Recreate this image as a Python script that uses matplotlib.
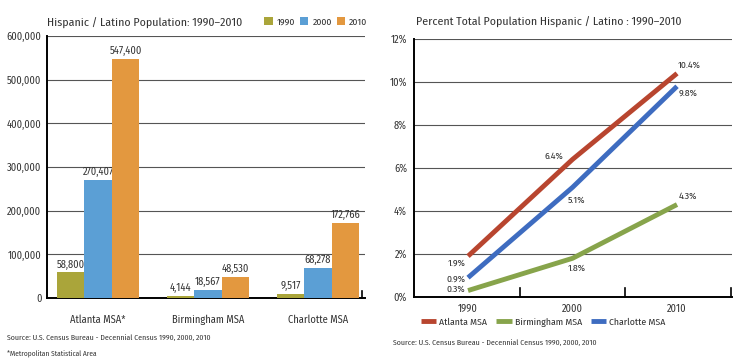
import matplotlib.pyplot as plt
import numpy as np

plt.rcParams['font.family'] = ['Fira Sans Condensed', 'Roboto Condensed', 'DejaVu Sans']

# population data
metros = ['Atlanta MSA*', 'Birmingham MSA', 'Charlotte MSA']
years = ['1990', '2000', '2010']
pop_1990 = [58800, 4144, 9517]
pop_2000 = [270407, 18567, 68278]
pop_2010 = [547400, 48530, 172766]

# percent data
pct_atlanta = [1.9, 6.4, 10.4]
pct_birmingham = [0.3, 1.8, 4.3]
pct_charlotte = [0.9, 5.1, 9.8]

bar_cols = ['#aaa53a', '#5b9fd5', '#e3983f']
line_cols = ['#b8452f', '#87a44b', '#3e6cc0']
txt = '#333333'
grid = '#555555'

fig = plt.figure(figsize=(7.43, 3.61), dpi=100)

# ---- left: bars ----
ax1 = fig.add_axes([47/743, 1-298/361, 318/743, 262/361])
x = np.arange(len(metros))
w = 0.25
series = [pop_1990, pop_2000, pop_2010]
for i, (vals, c, yr) in enumerate(zip(series, bar_cols, years)):
    bars = ax1.bar(x + (i-1)*w, vals, w, color=c, label=yr, zorder=3)
    for b, v in zip(bars, vals):
        ax1.text(b.get_x() + b.get_width()/2, v + 6000, f'{v:,}',
                 ha='center', va='bottom', fontsize=7.5, color=txt)
ax1.set_xlim(-0.464, 2.427)
ax1.set_ylim(0, 600000)
ax1.set_yticks(range(0, 600001, 100000))
ax1.set_yticklabels([f'{v:,}' for v in range(0, 600001, 100000)], fontsize=7.5, color=txt)
ax1.set_xticks(x)
ax1.set_xticklabels(metros, fontsize=7.5, color=txt)
ax1.tick_params(axis='both', length=0, pad=4)
ax1.tick_params(axis='x', pad=12)
ax1.yaxis.grid(True, color=grid, lw=0.8, zorder=0)
for s in ['top', 'right']:
    ax1.spines[s].set_visible(False)
ax1.spines['left'].set_linewidth(1.4)
ax1.spines['bottom'].set_linewidth(1.4)
ax1.axvline(2.40, ymin=0, ymax=0.025, color='black', lw=1.2, clip_on=False)
fig.text(47/743, 1-22/361, 'Hispanic / Latino Population: 1990\u20132010',
         fontsize=8.5, color=txt, va='center')
ax1.legend(loc='center left', bbox_to_anchor=(259/743, 1-22/361),
           bbox_transform=fig.transFigure, ncol=3, frameon=False,
           fontsize=7, handlelength=0.9, handleheight=0.9, handletextpad=0.4,
           columnspacing=0.5, borderpad=0, labelcolor=txt)
fig.text(7/743, 1-338/361, 'Source: U.S. Census Bureau - Decennial Census 1990, 2000, 2010',
         fontsize=5.6, color=txt, va='center')
fig.text(7/743, 1-353/361, '*Metropolitan Statistical Area',
         fontsize=5.3, color=txt, va='center')

# ---- right: lines ----
ax2 = fig.add_axes([414/743, 1-297/361, 318/743, 258/361])
xp = np.arange(len(years))
names = ['Atlanta MSA', 'Birmingham MSA', 'Charlotte MSA']
for vals, c, n in zip([pct_atlanta, pct_birmingham, pct_charlotte], line_cols, names):
    ax2.plot(xp, vals, color=c, lw=3.5, label=n, solid_capstyle='butt', zorder=3)
ax2.set_xlim(-0.517, 2.526)
ax2.set_ylim(0, 12)
ax2.set_yticks(range(0, 13, 2))
ax2.set_yticklabels([f'{v}%' for v in range(0, 13, 2)], fontsize=7.5, color=txt)
ax2.set_xticks(xp)
ax2.set_xticklabels(years, fontsize=7.5, color=txt)
ax2.tick_params(axis='both', length=0, pad=5)
ax2.yaxis.grid(True, color=grid, lw=0.8, zorder=0)
for s in ['top', 'right']:
    ax2.spines[s].set_visible(False)
ax2.spines['left'].set_linewidth(1.4)
ax2.spines['bottom'].set_linewidth(1.4)
for xt in [0.5, 1.5, 2.52]:
    ax2.axvline(xt, ymin=0, ymax=0.035, color='black', lw=1.2, clip_on=False)

def lab(xv, yv, dx, dy, ha):
    ax2.annotate(f'{yv}%', (xv, yv), xytext=(dx, dy), textcoords='offset points',
                 ha=ha, va='center', fontsize=7, color=txt)

lab(0, pct_atlanta[0], -2, -5, 'right')
lab(0, pct_charlotte[0], -2, -1, 'right')
lab(0, pct_birmingham[0], -2, 1, 'right')
lab(1, pct_atlanta[1], -7, 2, 'right')
lab(1, pct_charlotte[1], 3, -9, 'center')
lab(1, pct_birmingham[1], 3, -7, 'center')
lab(2, pct_atlanta[2], 9, 6, 'center')
lab(2, pct_charlotte[2], 8, -5, 'center')
lab(2, pct_birmingham[2], 8, 6, 'center')

fig.text(416/743, 1-21/361, 'Percent Total Population Hispanic / Latino : 1990\u20132010',
         fontsize=8.5, color=txt, va='center')
ax2.legend(loc='center left', bbox_to_anchor=(416/743, 1-322/361),
           bbox_transform=fig.transFigure, ncol=3, frameon=False,
           fontsize=7, handlelength=1.6, handletextpad=0.3,
           columnspacing=0.9, borderpad=0, labelcolor=txt)
fig.text(393/743, 1-343/361, 'Source: U.S. Census Bureau - Decennial Census 1990, 2000, 2010',
         fontsize=5.6, color=txt, va='center')

fig.savefig('out.png', dpi=100)
